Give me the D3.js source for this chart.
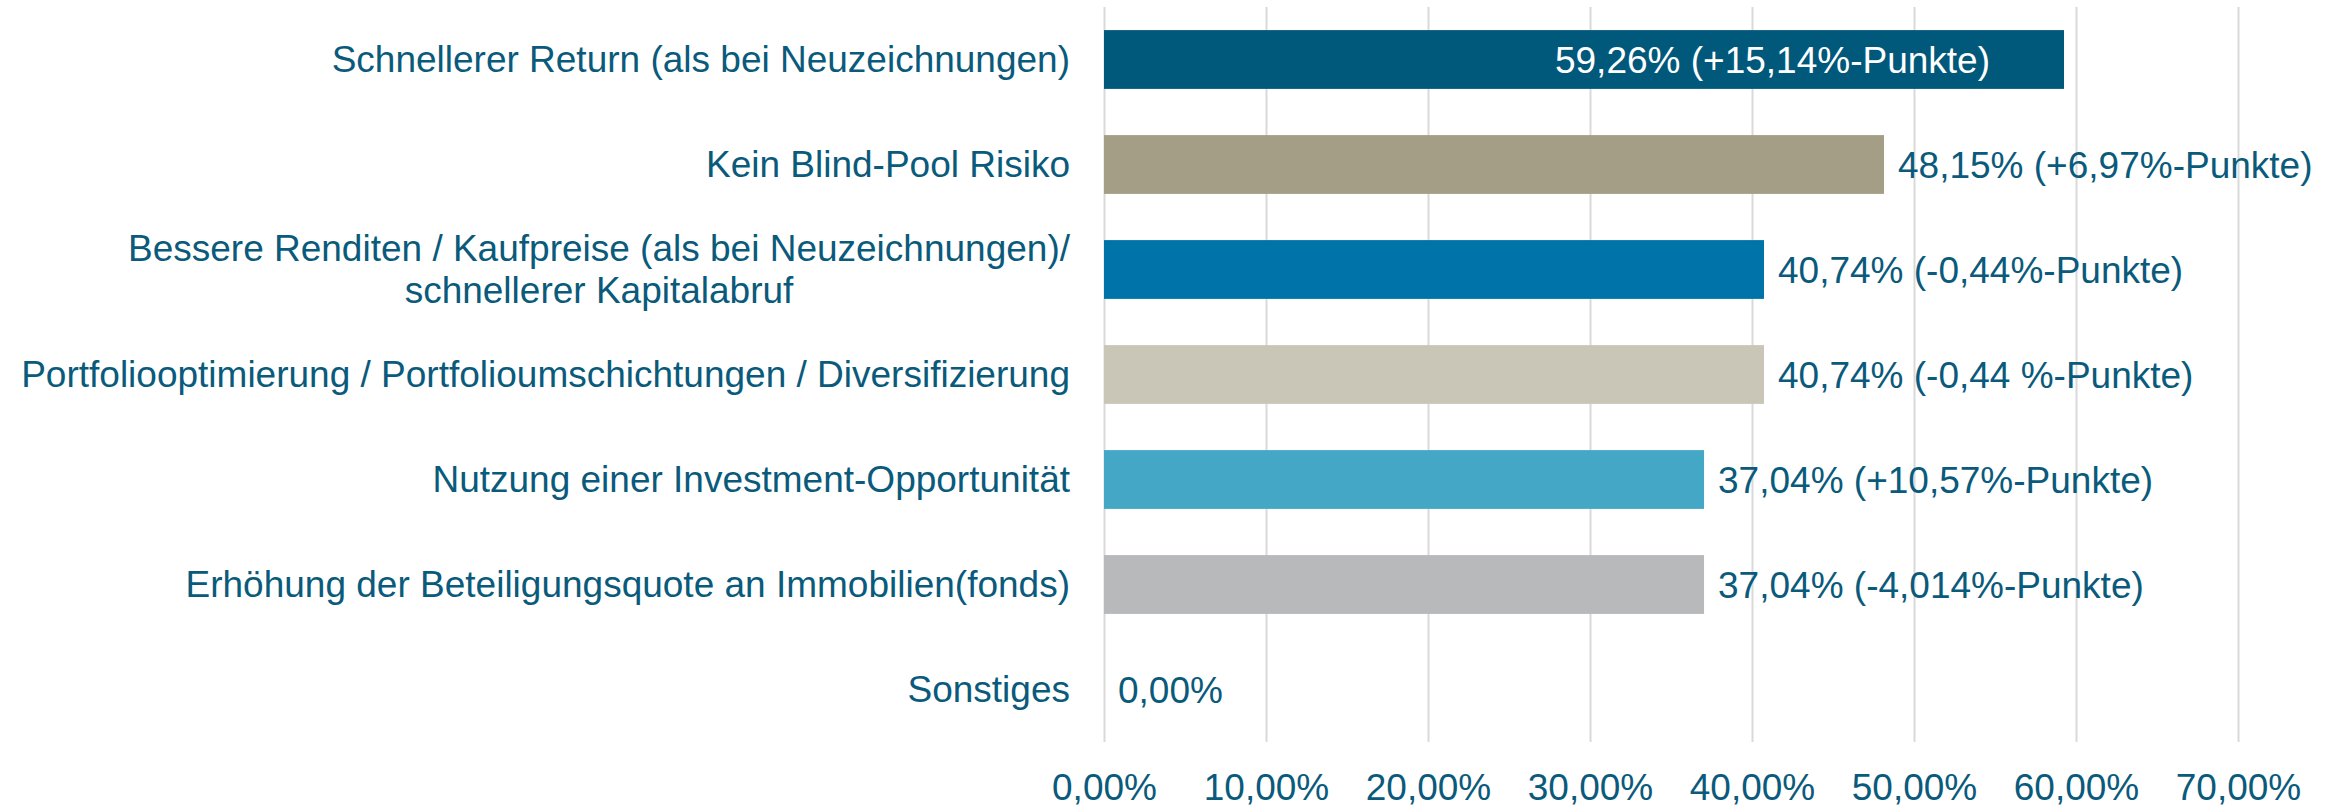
<!DOCTYPE html>
<html>
<head>
<meta charset="utf-8">
<script src="https://cdn.jsdelivr.net/npm/d3@7"></script>
<style>
  body { margin: 0; background: #fff; }
  text { font-family: "Liberation Sans", Arial, sans-serif; }
</style>
</head>
<body>
<div id="chart"></div>
<script>
// data
var categories = [
  ["Schnellerer Return (als bei Neuzeichnungen)"],
  ["Kein Blind-Pool Risiko"],
  ["Bessere Renditen / Kaufpreise (als bei Neuzeichnungen)/", "schnellerer Kapitalabruf"],
  ["Portfoliooptimierung / Portfolioumschichtungen / Diversifizierung"],
  ["Nutzung einer Investment-Opportunität"],
  ["Erhöhung der Beteiligungsquote an Immobilien(fonds)"],
  ["Sonstiges"]
];
var values = [59.26, 48.15, 40.74, 40.74, 37.04, 37.04, 0];
var valueLabels = [
  "59,26% (+15,14%-Punkte)",
  "48,15% (+6,97%-Punkte)",
  "40,74% (-0,44%-Punkte)",
  "40,74% (-0,44 %-Punkte)",
  "37,04% (+10,57%-Punkte)",
  "37,04% (-4,014%-Punkte)",
  "0,00%"
];
var barColors = ["#00587b", "#a59e86", "#0074a8", "#c9c6b8", "#44a7c6", "#b8b9bb", "#b8b9bb"];
var xTicks = [0, 10, 20, 30, 40, 50, 60, 70];

var svgWidth = 2346;
var svgHeight = 806;
var margin = { top: 7, right: 108, bottom: 64, left: 1104 };
var width = svgWidth - margin.left - margin.right;
var height = svgHeight - margin.top - margin.bottom;
var textColor = "#0a5a7c";

var svg = d3.select("#chart").append("svg")
  .attr("width", svgWidth)
  .attr("height", svgHeight);

var chartGroup = svg.append("g")
  .attr("transform", `translate(${margin.left}, ${margin.top})`);

var x = d3.scaleLinear().domain([0, 70]).range([0, 1134]);
var y = d3.scaleBand().domain(d3.range(values.length)).range([0, height]).paddingInner(0.44).paddingOuter(0.22);

// gridlines
chartGroup.selectAll(".grid")
  .data(xTicks)
  .enter()
  .append("line")
  .attr("x1", d => Math.round(x(d)) + 0.5)
  .attr("x2", d => Math.round(x(d)) + 0.5)
  .attr("y1", 0)
  .attr("y2", height)
  .attr("stroke", "#d9d9d9")
  .attr("stroke-width", 2);

// x axis
var bottomAxis = d3.axisBottom(x).tickValues(xTicks).tickSize(0).tickPadding(0)
  .tickFormat(d => d3.format(".2f")(d).replace(".", ",") + "%");
var xAxis = chartGroup.append("g")
  .attr("transform", `translate(0, ${height + 45})`)
  .call(bottomAxis);
xAxis.select(".domain").remove();
xAxis.selectAll("text")
  .attr("font-size", "37px")
  .attr("fill", textColor)
  .attr("dy", "0")
  .attr("y", 0)
  .attr("dominant-baseline", "central");

// bars
chartGroup.selectAll(".bar")
  .data(values)
  .enter()
  .append("rect")
  .attr("x", 0)
  .attr("y", (d, i) => y(i))
  .attr("width", d => x(d))
  .attr("height", y.bandwidth())
  .attr("fill", (d, i) => barColors[i]);

// value labels
chartGroup.selectAll(".val")
  .data(values)
  .enter()
  .append("text")
  .attr("x", (d, i) => i === 0 ? x(d) - 74 : x(d) + 14)
  .attr("y", (d, i) => y(i) + y.bandwidth() / 2 + 1)
  .attr("text-anchor", (d, i) => i === 0 ? "end" : "start")
  .attr("dominant-baseline", "central")
  .attr("font-size", "37px")
  .attr("fill", (d, i) => i === 0 ? "#ffffff" : textColor)
  .text((d, i) => valueLabels[i]);

// category labels (multi-line centred as a block, block right-aligned)
categories.forEach(function(lines, i) {
  var g = svg.append("g");
  var cy = margin.top + y(i) + y.bandwidth() / 2;
  var lineH = 42;
  var texts = lines.map(function(l, k) {
    return g.append("text")
      .attr("y", cy + (k - (lines.length - 1) / 2) * lineH)
      .attr("dominant-baseline", "central")
      .attr("font-size", "37px")
      .attr("fill", textColor)
      .text(l);
  });
  var maxW = d3.max(texts, t => t.node().getComputedTextLength());
  var right = margin.left - 34;
  texts.forEach(function(t) {
    t.attr("text-anchor", "middle").attr("x", right - maxW / 2);
  });
});
</script>
</body>
</html>
